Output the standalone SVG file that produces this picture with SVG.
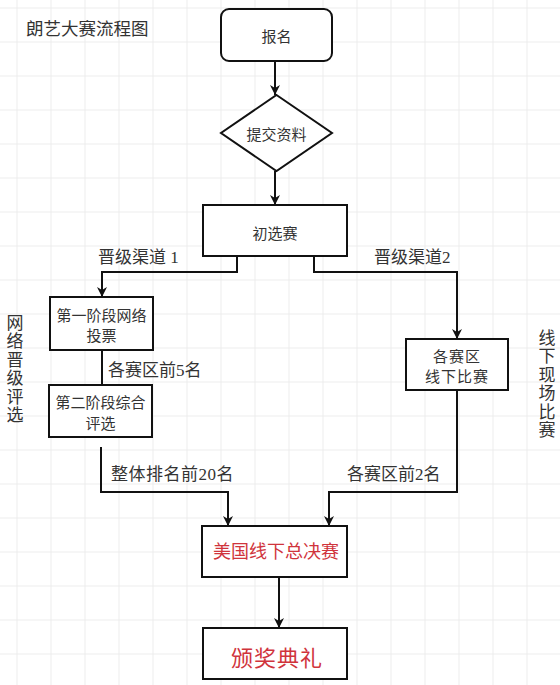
<svg xmlns="http://www.w3.org/2000/svg" width="560" height="685" viewBox="0 0 560 685">
<style>
.box{fill:#fff;stroke:#111;stroke-width:2}
.conn{fill:none;stroke:#111;stroke-width:2}
.t{font-family:"Noto Sans CJK SC","Noto Sans",sans-serif;fill:#333;text-anchor:middle;dominant-baseline:central}
.lbl{font-family:"Liberation Serif","Noto Sans CJK SC",serif;fill:#333;font-size:17px;dominant-baseline:central}
.red{fill:#d0343c}
.vt{font-family:"Noto Sans CJK SC",sans-serif;fill:#333;font-size:17px;writing-mode:vertical-rl;letter-spacing:1.5px}
</style>
<defs>
<pattern id="grid" patternUnits="userSpaceOnUse" x="16.5" y="7.5" width="34" height="34">
<path d="M0,0.5 H34 M0.5,0 V34" stroke="#ececec" stroke-width="1" fill="none"/>
</pattern>
<marker id="arr" markerUnits="userSpaceOnUse" viewBox="0 0 10 10" refX="10" refY="5" markerWidth="10" markerHeight="10" orient="auto">
<path d="M0,0 L10,5 L0,10 L3,5 z" fill="#111"/>
</marker>
</defs>
<rect width="560" height="685" fill="#fff"/>
<rect width="560" height="685" fill="url(#grid)"/>

<text id="title" x="26" y="27" font-family="Noto Sans CJK SC,sans-serif" font-size="17.5" fill="#333" dominant-baseline="central">朗艺大赛流程图</text>

<g id="connectors">
<path class="conn" d="M275,61 V95" marker-end="url(#arr)"/>
<path class="conn" d="M275,171 V205" marker-end="url(#arr)"/>
<path class="conn" d="M237,256 V272 H102 V297" marker-end="url(#arr)"/>
<path class="conn" d="M314,256 V272 H457 V339" marker-end="url(#arr)"/>
<path class="conn" d="M102,350 V385"/>
<path class="conn" d="M101,447 V492 H228 V526" marker-end="url(#arr)"/>
<path class="conn" d="M457,390 V492 H329 V526" marker-end="url(#arr)"/>
<path class="conn" d="M279,577 V628" marker-end="url(#arr)"/>
<text class="lbl" x="98" y="257">晋级渠道 1</text>
<text class="lbl" x="374" y="257">晋级渠道2</text>
<text class="lbl" x="108" y="370">各赛区前5名</text>
<text class="lbl" x="111" y="474" letter-spacing="0.5">整体排名前20名</text>
<text class="lbl" x="347" y="474">各赛区前2名</text>
</g>

<g id="n-signup">
<rect class="box" x="221" y="9" width="111" height="52" rx="8"/>
<text class="t" x="276.5" y="35" font-size="15">报名</text>
</g>
<g id="n-submit">
<polygon class="box" points="276.5,95 332,133 276.5,171 221,133"/>
<text class="t" x="276.5" y="133" font-size="15">提交资料</text>
</g>
<g id="n-prelim">
<rect class="box" x="203" y="205" width="144" height="51"/>
<text class="t" x="275" y="232" font-size="15">初选赛</text>
</g>
<g id="n-stage1">
<rect class="box" x="50" y="297" width="103" height="53"/>
<text class="t" x="101.5" y="314" font-size="15">第一阶段网络<tspan x="101.5" dy="20">投票</tspan></text>
</g>
<g id="n-stage2">
<rect class="box" x="49" y="385" width="103" height="52"/>
<text class="t" x="100.5" y="401.5" font-size="15">第二阶段综合<tspan x="100.5" dy="20">评选</tspan></text>
</g>
<g id="n-offline">
<rect class="box" x="406" y="339" width="102" height="51"/>
<text class="t" x="457" y="355" font-size="15" letter-spacing="1">各赛区<tspan x="457" dy="20">线下比赛</tspan></text>
</g>
<g id="n-final">
<rect class="box" x="202" y="526" width="145" height="51"/>
<text class="t red" x="276" y="550" font-size="18">美国线下总决赛</text>
</g>
<g id="n-award">
<rect class="box" x="203" y="628" width="144" height="51"/>
<text class="t red" x="277" y="656" font-size="22" letter-spacing="1">颁奖典礼</text>
</g>

<g id="side-left">
<text class="vt" x="15" y="314">网络晋级评选</text>
</g>
<g id="side-right">
<text class="vt" x="547" y="329">线下现场比赛</text>
</g>
</svg>
